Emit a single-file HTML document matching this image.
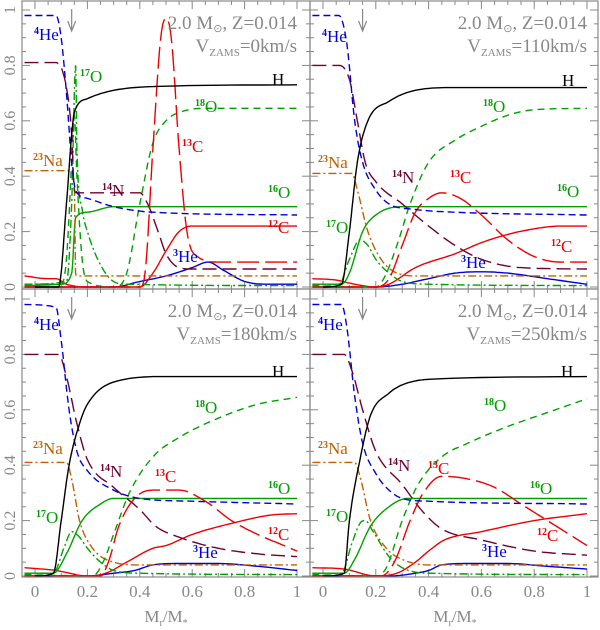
<!DOCTYPE html>
<html><head><meta charset="utf-8"><style>
html,body{margin:0;padding:0;background:#fff}
svg{display:block;font-family:"Liberation Serif",serif}
</style></head><body>
<svg id="chart" width="600" height="630" viewBox="0 0 600 630" xmlns="http://www.w3.org/2000/svg"></svg>
<script>
// ---- data: [x, abundance] points per species per panel ----
const velocities = ["0","110","180","250"];
const xTicks = [0,0.2,0.4,0.6,0.8,1];
const xTickLabels = ["0","0.2","0.4","0.6","0.8","1"];
const yTicks = [0,0.2,0.4,0.6,0.8,1];
const yTickLabels = ["0","0.2","0.4","0.6","0.8","1"];

const H_v0 = [[0,0],[0.09,0],[0.12,0.3],[0.14,0.55],[0.15,0.63],[0.2,0.68],[0.3,0.71],[0.5,0.725],[1,0.73]];
const He4_v0 = [[-0.04,0.98],[0.08,0.98],[0.1,0.9],[0.12,0.7],[0.14,0.45],[0.155,0.35],[0.2,0.32],[0.3,0.29],[0.45,0.27],[1,0.26]];
const N14_v0 = [[-0.04,0.81],[0.08,0.81],[0.12,0.72],[0.14,0.55],[0.15,0.35],[0.16,0.34],[0.4,0.34],[0.43,0.3],[0.47,0.2],[0.5,0.12],[0.55,0.07],[0.6,0.065],[1,0.065]];
const C13_v0 = [[-0.04,0],[0.4,0],[0.42,0.05],[0.45,0.5],[0.48,0.9],[0.5,0.97],[0.52,0.9],[0.55,0.5],[0.58,0.2],[0.62,0.11],[0.7,0.09],[1,0.09]];
const C12_v0 = [[-0.04,0.04],[0.05,0.03],[0.08,0.03],[0.12,0.01],[0.2,0],[0.4,0],[0.45,0.05],[0.5,0.13],[0.55,0.2],[0.6,0.22],[1,0.22]];
const O16_v0 = [[-0.04,0.005],[0.1,0.01],[0.14,0.05],[0.155,0.25],[0.2,0.27],[0.3,0.29],[1,0.29]];
const O17_v0 = [[-0.04,0.01],[0.12,0.02],[0.14,0.3],[0.155,0.8],[0.16,0.5],[0.18,0.28],[0.2,0.2],[0.25,0.08],[0.3,0.02],[0.35,0.01],[1,0.005]];
const O18_v0 = [[-0.04,0.01],[0.1,0.01],[0.12,0.1],[0.14,0.45],[0.15,0.62],[0.16,0.4],[0.18,0.1],[0.2,0.02],[0.3,0],[0.35,0.05],[0.4,0.3],[0.45,0.52],[0.5,0.6],[0.55,0.63],[0.65,0.645],[1,0.645]];
const Na23_v0 = [[-0.04,0.42],[0.13,0.42],[0.15,0.38],[0.155,0.05],[0.16,0.04],[1,0.04]];
const He3_v0 = [[-0.04,0],[0.3,0],[0.4,0.02],[0.5,0.04],[0.6,0.07],[0.66,0.09],[0.72,0.06],[0.8,0.02],[0.9,0.01],[1,0.01]];

const H_v110 = [[0,0],[0.07,0.01],[0.1,0.2],[0.13,0.45],[0.17,0.6],[0.25,0.67],[0.35,0.71],[0.5,0.72],[1,0.72]];
const He4_v110 = [[-0.04,0.98],[0.06,0.98],[0.09,0.88],[0.12,0.6],[0.15,0.45],[0.2,0.35],[0.25,0.3],[0.35,0.28],[0.5,0.27],[1,0.26]];
const N14_v110 = [[-0.04,0.8],[0.06,0.8],[0.1,0.75],[0.13,0.6],[0.16,0.45],[0.2,0.38],[0.3,0.3],[0.4,0.22],[0.5,0.15],[0.6,0.1],[0.75,0.07],[1,0.065]];
const C13_v110 = [[-0.04,0],[0.2,0],[0.25,0.03],[0.3,0.15],[0.35,0.27],[0.4,0.32],[0.45,0.34],[0.52,0.32],[0.6,0.26],[0.7,0.17],[0.8,0.11],[0.9,0.09],[1,0.09]];
const C12_v110 = [[-0.04,0.03],[0.05,0.025],[0.12,0.01],[0.2,0],[0.25,0.01],[0.35,0.07],[0.5,0.12],[0.6,0.16],[0.7,0.19],[0.8,0.21],[0.9,0.22],[1,0.22]];
const O16_v110 = [[-0.04,0.01],[0.07,0.01],[0.1,0.05],[0.15,0.2],[0.2,0.26],[0.3,0.29],[1,0.29]];
const O17_v110 = [[-0.04,0.01],[0.06,0.01],[0.1,0.1],[0.14,0.17],[0.17,0.15],[0.2,0.1],[0.25,0.05],[0.3,0.02],[0.4,0.01],[1,0.005]];
const O18_v110 = [[-0.04,0.005],[0.2,0],[0.23,0.03],[0.28,0.15],[0.33,0.3],[0.4,0.45],[0.5,0.53],[0.6,0.58],[0.7,0.62],[0.8,0.64],[1,0.645]];
const Na23_v110 = [[-0.04,0.41],[0.11,0.41],[0.13,0.35],[0.17,0.2],[0.22,0.1],[0.27,0.055],[0.35,0.04],[1,0.04]];
const He3_v110 = [[-0.04,0],[0.2,0],[0.3,0.01],[0.4,0.03],[0.5,0.05],[0.6,0.055],[0.7,0.05],[0.85,0.03],[1,0.01]];

const H_v180 = [[0,0],[0.07,0.01],[0.1,0.2],[0.13,0.4],[0.17,0.55],[0.2,0.62],[0.3,0.7],[0.5,0.72],[1,0.72]];
const He4_v180 = [[-0.04,0.98],[0.08,0.97],[0.1,0.85],[0.13,0.6],[0.16,0.45],[0.2,0.38],[0.3,0.31],[0.4,0.28],[0.6,0.27],[1,0.26]];
const N14_v180 = [[-0.04,0.8],[0.09,0.8],[0.12,0.72],[0.16,0.55],[0.2,0.42],[0.3,0.32],[0.4,0.24],[0.46,0.18],[0.55,0.14],[0.7,0.1],[0.85,0.08],[1,0.07]];
const C13_v180 = [[-0.04,0],[0.25,0],[0.28,0.05],[0.32,0.18],[0.38,0.28],[0.45,0.31],[0.55,0.31],[0.65,0.27],[0.75,0.2],[0.85,0.15],[0.95,0.11],[1,0.09]];
const C12_v180 = [[-0.04,0.03],[0.08,0.02],[0.2,0],[0.27,0.01],[0.35,0.05],[0.45,0.1],[0.5,0.11],[0.6,0.15],[0.75,0.19],[0.9,0.22],[1,0.225]];
const O16_v180 = [[-0.04,0.01],[0.07,0.01],[0.12,0.08],[0.18,0.2],[0.25,0.26],[0.3,0.28],[1,0.28]];
const O17_v180 = [[-0.04,0.01],[0.07,0.01],[0.11,0.1],[0.14,0.16],[0.17,0.14],[0.2,0.1],[0.25,0.05],[0.3,0.02],[0.4,0.01],[1,0.005]];
const O18_v180 = [[-0.04,0.005],[0.22,0],[0.26,0.05],[0.3,0.15],[0.36,0.3],[0.45,0.43],[0.55,0.5],[0.7,0.57],[0.85,0.62],[1,0.645]];
const Na23_v180 = [[-0.04,0.41],[0.12,0.41],[0.14,0.35],[0.17,0.2],[0.22,0.1],[0.3,0.05],[0.4,0.04],[1,0.04]];
const He3_v180 = [[-0.04,0],[0.2,0],[0.3,0.01],[0.38,0.02],[0.45,0.04],[0.55,0.045],[0.7,0.045],[0.85,0.035],[1,0.02]];

const H_v250 = [[0,0],[0.08,0.01],[0.1,0.2],[0.14,0.42],[0.18,0.58],[0.25,0.66],[0.3,0.69],[0.4,0.71],[1,0.72]];
const He4_v250 = [[-0.04,0.98],[0.07,0.98],[0.09,0.9],[0.12,0.65],[0.15,0.48],[0.2,0.37],[0.25,0.31],[0.3,0.28],[0.4,0.27],[1,0.26]];
const N14_v250 = [[-0.04,0.8],[0.08,0.8],[0.11,0.74],[0.15,0.6],[0.2,0.45],[0.3,0.33],[0.38,0.23],[0.45,0.17],[0.6,0.13],[0.8,0.09],[1,0.075]];
const C13_v250 = [[-0.04,0],[0.22,0],[0.27,0.05],[0.33,0.2],[0.38,0.3],[0.45,0.36],[0.55,0.35],[0.65,0.32],[0.75,0.26],[0.85,0.2],[0.95,0.14],[1,0.11]];
const C12_v250 = [[-0.04,0.03],[0.08,0.025],[0.2,0],[0.28,0.01],[0.35,0.05],[0.4,0.09],[0.46,0.13],[0.6,0.16],[0.8,0.2],[1,0.225]];
const O16_v250 = [[-0.04,0.01],[0.08,0.01],[0.12,0.06],[0.18,0.18],[0.25,0.25],[0.32,0.28],[1,0.28]];
const O17_v250 = [[-0.04,0.01],[0.07,0.01],[0.11,0.12],[0.14,0.19],[0.16,0.2],[0.19,0.16],[0.25,0.07],[0.3,0.03],[0.4,0.01],[1,0.005]];
const O18_v250 = [[-0.04,0.005],[0.2,0],[0.24,0.03],[0.3,0.2],[0.36,0.33],[0.45,0.43],[0.55,0.48],[0.7,0.54],[0.85,0.59],[1,0.64]];
const Na23_v250 = [[-0.04,0.41],[0.12,0.41],[0.14,0.36],[0.18,0.2],[0.24,0.1],[0.3,0.06],[0.4,0.04],[1,0.04]];
const He3_v250 = [[-0.04,0],[0.25,0],[0.35,0.01],[0.4,0.02],[0.45,0.04],[0.55,0.045],[0.7,0.045],[0.85,0.035],[1,0.025]];

const panelSeries = [
 {H:H_v0,He4:He4_v0,N14:N14_v0,C13:C13_v0,C12:C12_v0,O16:O16_v0,O17:O17_v0,O18:O18_v0,Na23:Na23_v0,He3:He3_v0},
 {H:H_v110,He4:He4_v110,N14:N14_v110,C13:C13_v110,C12:C12_v110,O16:O16_v110,O17:O17_v110,O18:O18_v110,Na23:Na23_v110,He3:He3_v110},
 {H:H_v180,He4:He4_v180,N14:N14_v180,C13:C13_v180,C12:C12_v180,O16:O16_v180,O17:O17_v180,O18:O18_v180,Na23:Na23_v180,He3:He3_v180},
 {H:H_v250,He4:He4_v250,N14:N14_v250,C13:C13_v250,C12:C12_v250,O16:O16_v250,O17:O17_v250,O18:O18_v250,Na23:Na23_v250,He3:He3_v250}
];
const arrowX = [0.14,0.15,0.14,0.15];

// ---- styles / layout ----
const styles = {
 He3:{c:"#0000dd",d:""}, C12:{c:"#ee0000",d:""}, O16:{c:"#00a000",d:""},
 O17:{c:"#00a000",d:"8,3,2,3"}, Na23:{c:"#c06000",d:"8,3,2,3"}, O18:{c:"#00a000",d:"7,5"},
 N14:{c:"#700030",d:"14,6"}, C13:{c:"#ee0000",d:"22,6"}, He4:{c:"#0000dd",d:"7,4"}, H:{c:"#000",d:""}
};
const drawOrder = ["He3","C12","O16","O17","Na23","O18","N14","C13","He4","H"];
const geo = [
 {fl:22,fr:310,ft:1,fb:289,x0:35,x1:297,yz:287},
 {fl:310,fr:598,ft:1,fb:289,x0:323,x1:587,yz:287},
 {fl:22,fr:310,ft:289,fb:577,x0:35,x1:297,yz:576},
 {fl:310,fr:598,ft:289,fb:577,x0:323,x1:587,yz:576}
];
const YS = 277;
const labels = [
 [["4","He",34,40,"He4"],["17","O",80,82,"O17"],["","H",272,85,"H"],["18","O",195,112,"O18"],["13","C",182,152,"C13"],["23","Na",33,166,"Na23"],["14","N",102,196,"N14"],["16","O",268,198,"O16"],["12","C",268,233,"C12"],["3","He",173,262,"He3"]],
 [["4","He",322,42,"He4"],["","H",562,86,"H"],["18","O",483,112,"O18"],["23","Na",318,168,"Na23"],["14","N",392,183,"N14"],["13","C",450,183,"C13"],["16","O",557,197,"O16"],["17","O",326,233,"O17"],["12","C",551,252,"C12"],["3","He",461,268,"He3"]],
 [["4","He",34,330,"He4"],["","H",272,377,"H"],["18","O",195,413,"O18"],["23","Na",33,454,"Na23"],["14","N",100,477,"N14"],["13","C",155,482,"C13"],["16","O",268,494,"O16"],["17","O",36,523,"O17"],["12","C",268,540,"C12"],["3","He",193,558,"He3"]],
 [["4","He",318,330,"He4"],["","H",561,377,"H"],["18","O",484,411,"O18"],["23","Na",318,454,"Na23"],["14","N",388,471,"N14"],["13","C",428,474,"C13"],["16","O",530,494,"O16"],["17","O",326,522,"O17"],["12","C",537,541,"C12"],["3","He",482,557,"He3"]]
];

const NS="http://www.w3.org/2000/svg";
const svg=document.getElementById("chart");
function mk(tag,attrs,parent){const e=document.createElementNS(NS,tag);for(const k in attrs)e.setAttribute(k,attrs[k]);(parent||svg).appendChild(e);return e;}
// monotone cubic (Fritsch-Carlson) interpolation in data space, sampled
function monoSample(pts){
 const n=pts.length, xs=pts.map(p=>p[0]), ys=pts.map(p=>p[1]);
 const d=[],m=new Array(n);
 for(let i=0;i<n-1;i++) d.push((ys[i+1]-ys[i])/(xs[i+1]-xs[i]));
 m[0]=d[0]; m[n-1]=d[n-2];
 for(let i=1;i<n-1;i++) m[i]=(d[i-1]*d[i]<=0)?0:(d[i-1]+d[i])/2;
 for(let i=0;i<n-1;i++){
  if(d[i]===0){m[i]=0;m[i+1]=0;continue;}
  const a=m[i]/d[i],b=m[i+1]/d[i],s=a*a+b*b;
  if(s>9){const t=3/Math.sqrt(s);m[i]=t*a*d[i];m[i+1]=t*b*d[i];}
 }
 const out=[];
 for(let i=0;i<n-1;i++){
  const h=xs[i+1]-xs[i];
  for(let k=0;k<12;k++){
   const t=k/12,t2=t*t,t3=t2*t;
   const y=(2*t3-3*t2+1)*ys[i]+(t3-2*t2+t)*h*m[i]+(-2*t3+3*t2)*ys[i+1]+(t3-t2)*h*m[i+1];
   out.push([xs[i]+t*h,y]);
  }
 }
 out.push([xs[n-1],ys[n-1]]);
 return out;
}
const grey="#888";
const defs=mk("defs",{});
geo.forEach((g,pi)=>{
 const sx=v=>g.x0+(g.x1-g.x0)*v;
 const sy=v=>g.yz-YS*v;
 const grp=mk("g",{});
 
 
 const cp=mk("clipPath",{id:"cp"+pi},defs);
 mk("rect",{x:g.fl,y:g.ft,width:g.fr-g.fl,height:g.fb-g.ft},cp);
 for(let k=-1;k<=21;k++){
  const v=k*0.05; const px=sx(v); if(px<g.fl+1||px>g.fr-1)continue;
  const L=(k%4===0)?8:4;
  mk("line",{x1:px,x2:px,y1:g.fb,y2:g.fb-L,stroke:grey,"stroke-width":1},grp);
  mk("line",{x1:px,x2:px,y1:g.ft,y2:g.ft+L,stroke:grey,"stroke-width":1},grp);
  const py=sy(v); if(py<g.ft+1||py>g.fb)continue;
  mk("line",{x1:g.fl,x2:g.fl+L,y1:py,y2:py,stroke:grey,"stroke-width":1},grp);
  mk("line",{x1:g.fr,x2:g.fr-L,y1:py,y2:py,stroke:grey,"stroke-width":1},grp);
 }
 const cg=mk("g",{"clip-path":"url(#cp"+pi+")"},grp);
 drawOrder.forEach(sp=>{
  const pts=monoSample(panelSeries[pi][sp]).map(p=>sx(p[0]).toFixed(1)+","+sy(p[1]).toFixed(1));
  const st=styles[sp];
  const path=mk("path",{d:"M"+pts.join(" L"),fill:"none",stroke:st.c,"stroke-width":1.4,"stroke-dasharray":st.d||"none"},cg);
  
  
 });
 const fr=mk("rect",{x:g.fl,y:g.ft,width:g.fr-g.fl,height:g.fb-g.ft,fill:"none",stroke:grey,"stroke-width":1.2},grp);
 
 
 const ax=sx(arrowX[pi]);
 const ar=mk("path",{d:`M${ax},${g.ft+8} L${ax},${g.ft+30} M${ax-4},${g.ft+20} L${ax},${g.ft+30} L${ax+4},${g.ft+20}`,fill:"none",stroke:grey,"stroke-width":1.2},grp);
 
 
 const t1=mk("text",{x:g.x1,y:g.ft+28,"text-anchor":"end",fill:grey,"font-size":19},grp);
 
 
 t1.innerHTML='2.0 M<tspan font-size="11" dy="3">⊙</tspan><tspan dy="-3">, Z=0.014</tspan>';
 const t2=mk("text",{x:g.x1,y:g.ft+51,"text-anchor":"end",fill:grey,"font-size":19},grp);
 
 
 t2.innerHTML='V<tspan font-size="11" dy="4">ZAMS</tspan><tspan dy="-4">='+velocities[pi]+'km/s</tspan>';
 labels[pi].forEach(l=>{
  const tx=mk("text",{x:l[2],y:l[3],fill:styles[l[4]].c,"font-size":17},grp);
  
  
  tx.innerHTML=(l[0]?'<tspan font-size="10" font-weight="bold" dy="-6">'+l[0]+'</tspan><tspan dy="6">'+l[1]+'</tspan>':l[1]);
 });
 if(pi%2===0){
  yTicks.forEach((v,i)=>{
   const ty=mk("text",{x:0,y:0,transform:`translate(15,${sy(v)}) rotate(-90)`,"text-anchor":"middle",fill:grey,"font-size":16},grp);
   
   
   ty.textContent=yTickLabels[i];
  });
 }
 if(pi>=2){
  xTicks.forEach((v,i)=>{
   const tx=mk("text",{x:sx(v),y:597,"text-anchor":"middle",fill:grey,"font-size":17},grp);
   
   
   tx.textContent=xTickLabels[i];
  });
  const xt=mk("text",{x:(g.x0+g.x1)/2,y:622,"text-anchor":"middle",fill:grey,"font-size":17},grp);
  
  
  xt.innerHTML='M<tspan font-size="10" dy="4">r</tspan><tspan dy="-4">/M</tspan><tspan font-size="10" dy="4">*</tspan>';
 }
});
</script>
</body></html>
